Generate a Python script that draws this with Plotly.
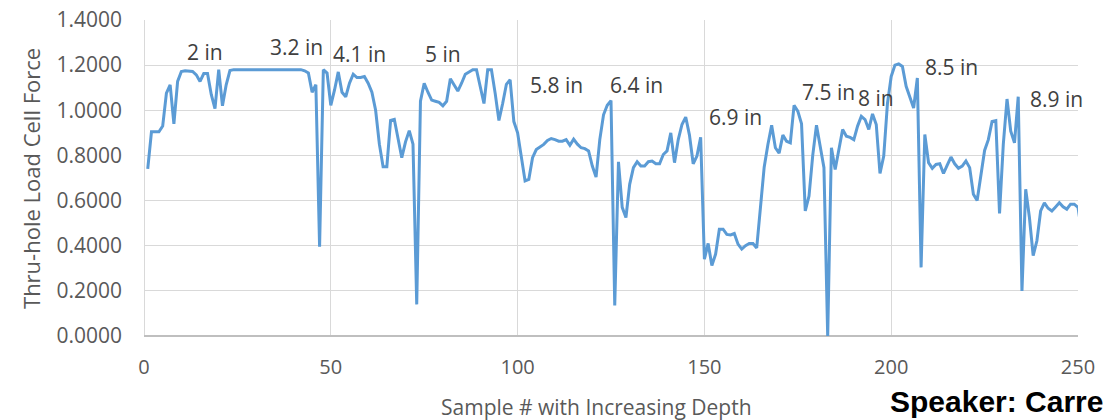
import plotly.graph_objects as go

# Load cell force per sample (samples 1..251)
force = [
    0.740, 0.905, 0.905, 0.905, 0.930, 1.076, 1.113, 0.940, 1.128, 1.172,
    1.175, 1.175, 1.172, 1.157, 1.128, 1.163, 1.163, 1.070, 1.007, 1.180,
    1.020, 1.113, 1.176, 1.180, 1.180, 1.180, 1.180, 1.180, 1.180, 1.180,
    1.180, 1.180, 1.180, 1.180, 1.180, 1.180, 1.180, 1.180, 1.180, 1.180,
    1.180, 1.180, 1.175, 1.165, 1.080, 1.113, 0.396, 1.180, 1.165, 1.022,
    1.090, 1.170, 1.080, 1.060, 1.120, 1.160, 1.145, 1.145, 1.150, 1.120,
    1.080, 1.000, 0.850, 0.750, 0.750, 0.955, 0.960, 0.880, 0.790, 0.860,
    0.910, 0.850, 0.140, 1.040, 1.120, 1.080, 1.045, 1.040, 1.035, 1.020,
    1.040, 1.140, 1.110, 1.085, 1.120, 1.160, 1.170, 1.180, 1.180, 1.100,
    1.030, 1.180, 1.180, 1.075, 0.955, 1.030, 1.115, 1.135, 0.950, 0.900,
    0.790, 0.687, 0.694, 0.790, 0.826, 0.838, 0.849, 0.866, 0.875, 0.870,
    0.863, 0.863, 0.870, 0.845, 0.872, 0.850, 0.834, 0.830, 0.820, 0.753,
    0.704, 0.870, 0.980, 1.022, 1.043, 0.135, 0.772, 0.570, 0.525, 0.672,
    0.746, 0.772, 0.753, 0.753, 0.772, 0.775, 0.763, 0.763, 0.804, 0.820,
    0.900, 0.768, 0.870, 0.937, 0.970, 0.890, 0.763, 0.797, 0.880, 0.340,
    0.410, 0.312, 0.363, 0.473, 0.473, 0.450, 0.448, 0.454, 0.407, 0.385,
    0.400, 0.410, 0.410, 0.390, 0.584, 0.748, 0.848, 0.934, 0.834, 0.810,
    0.890, 0.863, 0.856, 1.022, 0.996, 0.940, 0.554, 0.620, 0.800, 0.934,
    0.840, 0.746, 0.000, 0.834, 0.738, 0.834, 0.915, 0.885, 0.880, 0.870,
    0.930, 0.973, 0.959, 0.915, 0.984, 0.937, 0.720, 0.797, 1.030, 1.150,
    1.200, 1.205, 1.194, 1.106, 1.060, 1.010, 1.143, 0.304, 0.893, 0.768,
    0.743, 0.760, 0.763, 0.720, 0.757, 0.793, 0.763, 0.743, 0.753, 0.775,
    0.746, 0.628, 0.600, 0.716, 0.822, 0.870, 0.950, 0.954, 0.543, 0.848,
    1.050, 0.907, 0.856, 1.060, 0.200, 0.650, 0.525, 0.356, 0.422, 0.554,
    0.590, 0.566, 0.554, 0.572, 0.590, 0.572, 0.562, 0.584, 0.584, 0.570,
    0.460,
]
samples = list(range(1, len(force) + 1))

# Depth labels
depth_labels = ["2 in", "3.2 in", "4.1 in", "5 in", "5.8 in", "6.4 in",
                "6.9 in", "7.5 in", "8 in", "8.5 in", "8.9 in"]
label_x = [16.2, 40.8, 57.6, 80.1, 110.3, 131.7, 158.2, 183.1, 195.9, 216.2, 244.3]
label_y = [1.258, 1.280, 1.249, 1.249, 1.112, 1.112, 0.970, 1.081, 1.054, 1.191, 1.050]

x_title = "Sample # with Increasing Depth"
y_title = "Thru-hole Load Cell Force"
speaker = "Speaker: Carre"

TEXT = "#595959"
FONT = "Open Sans, sans-serif"

fig = go.Figure()
fig.add_trace(go.Scatter(
    x=samples, y=force, mode="lines",
    line=dict(color="#5b9bd5", width=3),
    showlegend=False, hoverinfo="x+y",
))

for t, lx, ly in zip(depth_labels, label_x, label_y):
    fig.add_annotation(x=lx, y=ly, text=t, showarrow=False,
                       xanchor="center", yanchor="middle",
                       font=dict(family=FONT, size=21, color="#404040"))

fig.add_annotation(xref="paper", yref="paper", x=-0.121, y=0.5,
                   text=y_title, textangle=-90, showarrow=False,
                   xanchor="center", yanchor="middle",
                   font=dict(family=FONT, size=22, color=TEXT))
fig.add_annotation(xref="paper", yref="paper", x=0.485, y=-0.226,
                   text=x_title, showarrow=False,
                   xanchor="center", yanchor="middle",
                   font=dict(family=FONT, size=21, color=TEXT))
fig.add_annotation(xref="paper", yref="paper", x=0.7965, y=-0.208,
                   text="<b>" + speaker + "</b>", showarrow=False,
                   xanchor="left", yanchor="middle",
                   font=dict(family="Liberation Sans, Arial, sans-serif", size=30, color="#000000"))

fig.update_xaxes(
    range=[0, 250], dtick=50, tick0=0, automargin=False,
    showgrid=True, gridcolor="#d9d9d9", gridwidth=1.3,
    zeroline=True, zerolinecolor="#d9d9d9", zerolinewidth=1.3,
    showline=False, ticks="",
    tickfont=dict(family=FONT, size=20, color=TEXT),
    ticklabelstandoff=17,
)
fig.update_yaxes(
    range=[0, 1.4], dtick=0.2, tick0=0, tickformat=".4f", automargin=False,
    showgrid=True, gridcolor="#d9d9d9", gridwidth=1.3,
    zeroline=True, zerolinecolor="#bfbfbf", zerolinewidth=1.5,
    showline=False, ticks="",
    tickfont=dict(family=FONT, size=21, color=TEXT),
    ticklabelstandoff=21,
)
fig.update_layout(
    width=1110, height=420,
    margin=dict(l=144, r=32, t=20, b=84, autoexpand=False),
    plot_bgcolor="white", paper_bgcolor="white",
)

fig.write_html(
    "out.html",
    config={"displayModeBar": False},
    post_script="document.body.style.margin='0';document.body.style.overflow='hidden';",
)
